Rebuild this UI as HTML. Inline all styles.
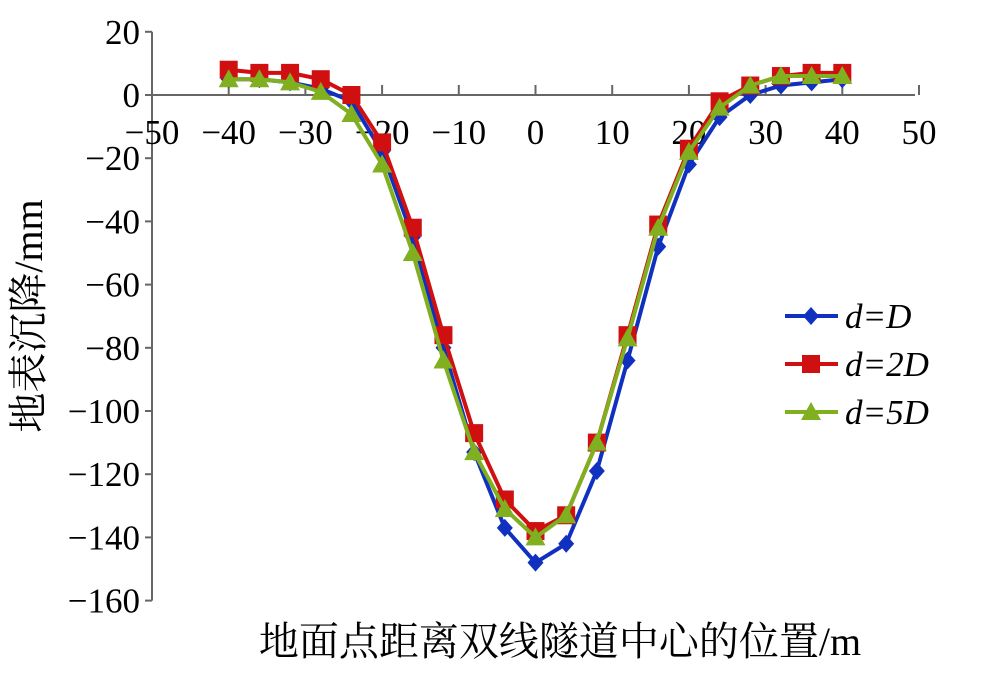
<!DOCTYPE html>
<html><head><meta charset="utf-8"><style>
body{margin:0;background:#fff;}
svg text{font-family:"Liberation Serif","Noto Serif CJK SC",serif;}
</style></head><body>
<svg width="1000" height="691" viewBox="0 0 1000 691">
<g id="axes"></g><g id="series"></g><g id="legend"></g>
<text x="42" y="316" font-size="40" text-anchor="middle" transform="rotate(-90 42 316)">地表沉降/mm</text>
<text x="560" y="655" font-size="40" text-anchor="middle">地面点距离双线隧道中心的位置/m</text>
</svg>
<script>
const xs=[-40,-36,-32,-28,-24,-20,-16,-12,-8,-4,0,4,8,12,16,20,24,28,32,36,40];
const sD=[5,5,4,2,-2,-18,-45,-80,-113,-137,-148,-142,-119,-84,-48,-22,-7,0,3,4,5];
const s2D=[8,7,7,5,0,-15,-42,-76,-107,-128,-138,-133,-110,-76,-41,-17,-2,3,6,7,7];
const s5D=[5,5,4,1,-6,-22,-50,-84,-113,-131,-140,-133,-110,-77,-42,-18,-4,3,6,6,6];
const xTicks=[-50,-40,-30,-20,-10,0,10,20,30,40,50];
const yTicks=[20,0,-20,-40,-60,-80,-100,-120,-140,-160];
const X=v=>152+(v+50)*7.67, Y=v=>95-v*3.16;
const NS="http://www.w3.org/2000/svg";
function mk(t,a,p){const e=document.createElementNS(NS,t);for(const k in a)e.setAttribute(k,a[k]);p.appendChild(e);return e;}
const ax=document.getElementById('axes');
let l=mk('line',{x1:X(-50),y1:Y(20),x2:X(-50),y2:Y(-160),stroke:'#666','stroke-width':2},ax);


l=mk('line',{x1:X(-50),y1:Y(0),x2:915,y2:Y(0),stroke:'#666','stroke-width':2},ax);


yTicks.forEach(v=>{mk('line',{x1:X(-50)-7,y1:Y(v),x2:X(-50),y2:Y(v),stroke:'#666','stroke-width':2},ax);
const t=mk('text',{x:140,y:Y(v)+12,'font-size':35,'text-anchor':'end'},ax);t.textContent=(v<0?'\u2212'+(-v):v);

});
xTicks.forEach(v=>{mk('line',{x1:X(v),y1:Y(0)-10,x2:X(v),y2:Y(0),stroke:'#666','stroke-width':2},ax);
const t=mk('text',{x:X(v),y:144,'font-size':35,'text-anchor':'middle'},ax);t.textContent=(v<0?'\u2212'+(-v):v);

});
const sg=document.getElementById('series');
function marker(type,x,y,c,g){
 if(type==='d')return mk('polygon',{points:`${x},${y-9} ${x+8},${y} ${x},${y+9} ${x-8},${y}`,fill:c},g);
 if(type==='s')return mk('rect',{x:x-9,y:y-9,width:18,height:18,fill:c},g);
 return mk('polygon',{points:`${x},${y-10} ${x+10},${y+8} ${x-10},${y+8}`,fill:c},g);}
const series=[[sD,'#1030c0','d','series-d-eq-D'],[s2D,'#d01010','s','series-d-eq-2D'],[s5D,'#80b020','t','series-d-eq-5D']];
series.forEach(([d,c,m,n])=>{const g=mk('g',{},sg);


mk('polyline',{points:xs.map((x,i)=>X(x)+','+Y(d[i])).join(' '),fill:'none',stroke:c,'stroke-width':4},g);
xs.forEach((x,i)=>marker(m,X(x),Y(d[i]),c,g));});
const lg=document.getElementById('legend');
const labels=['D','2D','5D'];
series.forEach(([d,c,m,n],i)=>{const y=316+i*48;const g=mk('g',{},lg);


mk('line',{x1:785,y1:y,x2:838,y2:y,stroke:c,'stroke-width':4},g);marker(m,811,y,c,g);
const t=mk('text',{x:845,y:y+12,'font-size':35,'font-style':'italic'},g);
t.textContent='d='+labels[i];});
</script>
</body></html>
